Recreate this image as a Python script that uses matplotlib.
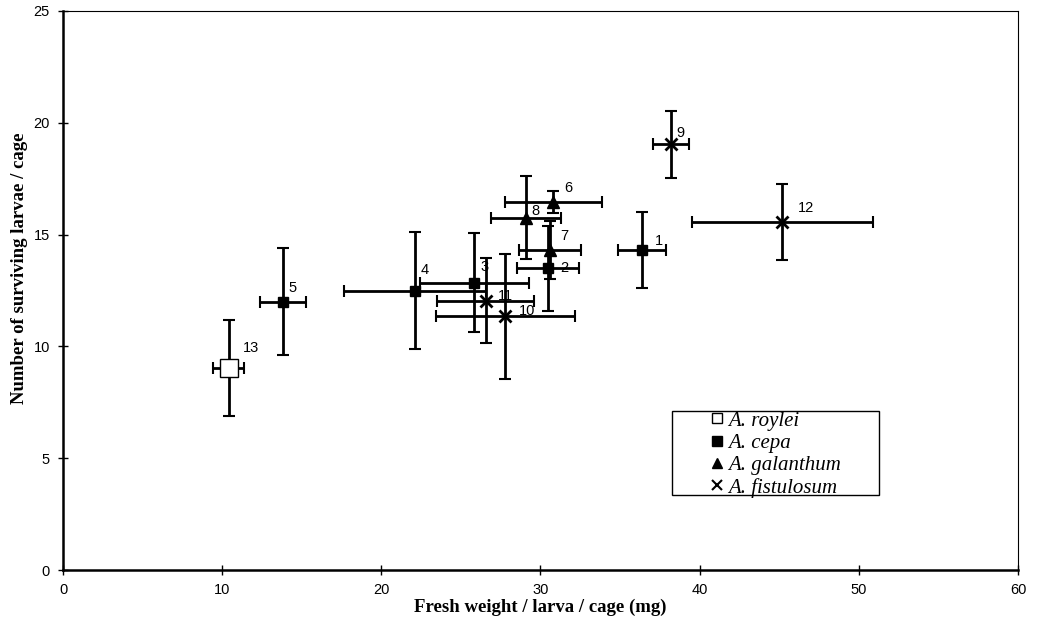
import matplotlib
matplotlib.use('Agg')
import matplotlib.pyplot as plt
from matplotlib.lines import Line2D
from matplotlib.patches import Rectangle

# data (numbered lines)
ids = ['1', '2', '3', '4', '5', '6', '7', '8', '9', '10', '11', '12', '13']
species = ['cepa'] * 5 + ['galanthum'] * 3 + ['fistulosum'] * 4 + ['roylei']
weight = [36.4, 30.45, 25.85, 22.1, 13.8, 30.8, 30.6, 29.1, 38.2, 27.8, 26.55, 45.2, 10.4]
weight_err = [1.5, 1.95, 3.4, 4.45, 1.45, 3.05, 1.95, 2.2, 1.1, 4.35, 3.05, 5.7, 0.95]
larvae = [14.3, 13.5, 12.85, 12.5, 12.0, 16.45, 14.3, 15.75, 19.05, 11.35, 12.05, 15.55, 9.05]
larvae_err = [1.7, 1.9, 2.2, 2.6, 2.4, 0.5, 1.3, 1.85, 1.5, 2.8, 1.9, 1.7, 2.15]

# label offsets (points) from each marker
lab_dx = [9, 9, 4, 4, 4, 8, 7, 4, 4, 10, 9, 11, 10]
lab_dy = [7, 0, 11, 15, 10, 10, 10, 5, 8, 4, 3, 10, 14]

styles = {
    'roylei': dict(marker='s', ms=13, mfc='white', mec='black', mew=1.0),
    'cepa': dict(marker='s', ms=7, mfc='black', mec='black'),
    'galanthum': dict(marker='^', ms=8, mfc='black', mec='black'),
    'fistulosum': dict(marker='x', ms=8, mfc='black', mec='black', mew=2),
}
legend_order = ['roylei', 'cepa', 'galanthum', 'fistulosum']
legend_names = ['A. roylei', 'A. cepa', 'A. galanthum', 'A. fistulosum']

fig = plt.figure(figsize=(10.38, 6.25), dpi=100)
ax = fig.add_axes([0.0607, 0.088, 0.92, 0.8944])

for i in range(len(ids)):
    st = styles[species[i]]
    ax.errorbar(weight[i], larvae[i], xerr=weight_err[i], yerr=larvae_err[i],
                fmt='none', ecolor='black', elinewidth=2, capsize=4, capthick=1.5, zorder=2)
    ax.plot(weight[i], larvae[i], linestyle='none', zorder=3, **st)
    ax.annotate(ids[i], (weight[i], larvae[i]), xytext=(lab_dx[i], lab_dy[i]),
                textcoords='offset points', ha='left', va='center',
                fontsize=10.5, family='Liberation Sans', zorder=4)

ax.set_xlim(0, 60)
ax.set_ylim(0, 25)
ax.set_xticks(range(0, 61, 10))
ax.set_yticks(range(0, 26, 5))
ax.tick_params(direction='inout', length=7, width=1, labelsize=10.5, pad=6)
for lab in ax.get_xticklabels() + ax.get_yticklabels():
    lab.set_family('Liberation Sans')
for s in ['left', 'bottom']:
    ax.spines[s].set_linewidth(1.8)
for s in ['top', 'right']:
    ax.spines[s].set_linewidth(0.8)

ax.set_xlabel('Fresh weight / larva / cage (mg)', family='Liberation Serif',
              fontweight='bold', fontsize=13.5, labelpad=1)
ax.set_ylabel('Number of surviving larvae / cage', family='Liberation Serif',
              fontweight='bold', fontsize=13.5)
ax.yaxis.set_label_coords(-0.037, 0.54)

# legend: plain box with indented entries
ax.add_patch(Rectangle((0.6377, 0.134), 0.2168, 0.1504, transform=ax.transAxes,
                       facecolor='white', edgecolor='black', lw=1.0, zorder=5))
handles = []
for k, name in zip(legend_order, legend_names):
    st = dict(styles[k])
    st['ms'] = 7
    if k == 'fistulosum':
        st['mew'] = 1.5
    handles.append(Line2D([], [], linestyle='none', label=name, **st))
leg = ax.legend(handles=handles, loc='upper left', bbox_to_anchor=(0.6766, 0.2845),
                frameon=False, handlelength=0.75, handletextpad=0.15, borderpad=0,
                borderaxespad=0, labelspacing=0.13,
                prop={'family': 'Liberation Serif', 'style': 'italic', 'size': 15})
leg.set_zorder(6)

fig.savefig('out.png', dpi=100)
